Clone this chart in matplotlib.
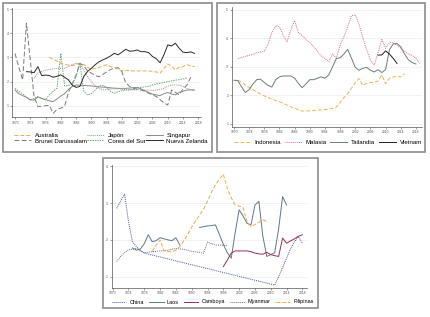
import numpy as np
import matplotlib
matplotlib.use("Agg")
import matplotlib.pyplot as plt
from matplotlib.patches import Rectangle

plt.rcParams['font.family'] = ['Liberation Sans', 'DejaVu Sans']

# ---------------- data: panel 1 ----------------
nz_years = list(range(1973, 2018))
nz_vals = [2.41, 2.40, 2.37, 2.62, 2.25, 2.27, 2.25, 2.18, 2.22, 2.28, 2.18, 2.07, 1.85, 1.76, 1.80,
           2.21, 2.42, 2.55, 2.70, 2.82, 2.90, 2.97, 3.06, 3.17, 3.11, 3.22, 3.34, 3.26, 3.27, 3.31,
           3.24, 3.24, 3.20, 3.04, 2.95, 2.78, 3.11, 3.52, 3.48, 3.59, 3.38, 3.22, 3.20, 3.23, 3.17]
aus_years = list(range(1979, 2018))
aus_vals = [3.00, 2.92, 2.85, 2.75, 2.72, 2.68, 2.66, 2.72, 2.76, 2.70, 2.60, 2.50, 2.55, 2.58, 2.65,
            2.70, 2.62, 2.58, 2.50, 2.45, 2.47, 2.46, 2.44, 2.44, 2.45, 2.44, 2.44, 2.42, 2.40, 2.35,
            2.55, 2.73, 2.65, 2.48, 2.60, 2.62, 2.70, 2.65, 2.62]
jap_years = list(range(1975, 2018))
jap_vals = [2.14, 2.35, 2.42, 2.48, 2.50, 2.52, 2.55, 2.55, 2.55, 2.62, 2.70, 2.76, 2.70, 2.50, 2.20,
            2.00, 1.82, 1.72, 1.65, 1.68, 1.70, 1.70, 1.70, 1.68, 1.67, 1.66, 1.66, 1.66, 1.66, 1.65,
            1.65, 1.63, 1.65, 1.68, 1.72, 1.80, 1.86, 1.86, 1.86, 1.80, 1.72, 1.66, 1.63]
sgp_years = list(range(1970, 2018))
sgp_vals = [1.65, 1.50, 1.42, 1.35, 1.24, 1.24, 1.36, 1.30, 1.25, 1.20, 1.17, 1.28, 1.40, 1.50, 1.68,
            1.80, 1.86, 1.85, 1.84, 1.83, 1.82, 1.80, 1.78, 1.77, 1.76, 1.74, 1.73, 1.72, 1.72, 1.72,
            1.73, 1.75, 1.76, 1.70, 1.62, 1.55, 1.48, 1.45, 1.42, 1.50, 1.55, 1.48, 1.45, 1.55, 1.60,
            1.65, 1.66, 1.65]
brn_years = list(range(1970, 2017))
brn_vals = [3.17, 2.60, 2.07, 4.42, 2.90, 1.38, 0.96, 0.98, 1.00, 1.02, 0.68, 0.85, 0.90, 0.98, 1.55,
            1.90, 2.28, 2.76, 2.65, 2.45, 2.35, 2.25, 2.20, 2.30, 2.40, 2.50, 2.55, 2.58, 2.40, 1.95,
            1.80, 1.72, 1.68, 1.65, 1.60, 1.52, 1.45, 1.38, 1.25, 1.12, 1.03, 1.65, 1.55, 1.45, 1.70,
            1.85, 2.18]
kor_years = list(range(1970, 2016))
kor_vals = [1.72, 1.60, 1.50, 1.35, 1.24, 1.30, 1.38, 1.30, 1.25, 1.45, 1.60, 1.72, 3.17, 1.82, 1.84,
            1.90, 2.20, 2.76, 1.60, 1.45, 1.50, 1.65, 1.82, 1.84, 1.75, 1.60, 1.51, 1.58, 1.62, 1.65,
            1.66, 1.68, 1.72, 1.76, 1.78, 1.80, 1.86, 1.90, 1.93, 1.96, 2.00, 2.03, 2.06, 2.08, 2.11,
            2.15]

# ---------------- data: panel 2 ----------------
idn_years = list(range(1971, 2016))
idn_vals = [2.53, 2.47, 2.36, 2.28, 2.20, 2.12, 2.05, 1.98, 1.92, 1.87, 1.82, 1.78, 1.72, 1.66, 1.60,
            1.55, 1.49, 1.45, 1.45, 1.46, 1.47, 1.48, 1.49, 1.50, 1.52, 1.55, 1.59, 1.75, 1.92, 2.06,
            2.25, 2.45, 2.59, 2.35, 2.42, 2.45, 2.46, 2.50, 2.71, 2.41, 2.60, 2.65, 2.66, 2.65, 2.76]
mys_years = list(range(1971, 2020))
mys_vals = [3.29, 3.33, 3.37, 3.40, 3.44, 3.49, 3.52, 3.55, 3.80, 4.20, 4.45, 4.40, 4.10, 3.88, 4.30,
            4.62, 4.20, 4.10, 3.96, 3.85, 3.72, 3.55, 3.38, 3.30, 3.18, 3.45, 3.30, 3.76, 4.06, 4.40,
            4.80, 4.82, 4.50, 4.00, 3.60, 3.24, 3.06, 3.50, 3.96, 3.65, 3.85, 3.85, 3.75, 3.65, 3.55,
            3.45, 3.40, 3.30, 3.12]
tha_years = list(range(1970, 2019))
tha_vals = [2.53, 2.52, 2.30, 2.10, 2.20, 2.40, 2.55, 2.57, 2.45, 2.35, 2.29, 2.55, 2.65, 2.68, 2.68,
            2.68, 2.60, 2.42, 2.27, 2.40, 2.55, 2.55, 2.60, 2.65, 2.60, 2.72, 3.00, 3.29, 3.32, 3.45,
            3.61, 3.30, 2.98, 2.88, 2.95, 2.98, 2.88, 2.82, 2.90, 2.80, 2.90, 3.60, 3.80, 3.82, 3.70,
            3.45, 3.25, 3.15, 3.10]
vnm_years = list(range(2008, 2014))
vnm_vals = [3.41, 3.42, 3.56, 3.45, 3.30, 3.12]

# ---------------- data: panel 3 ----------------
chn_years = [1971, 1972, 1973, 1974, 1975, 1976, 1977, 1978, 2011, 2012, 2013, 2014, 2015, 2016, 2017, 2018]
chn_vals = [2.86, 3.05, 3.25, 2.50, 1.95, 1.82, 1.70, 1.64, 0.77, 1.00, 1.25, 1.50, 1.75, 1.95, 2.09, 1.91]
lao_years = list(range(1975, 2015))
lao_vals = [1.78, 1.72, 1.75, 1.90, 2.14, 1.95, 1.98, 2.06, 2.03, 2.00, 1.98, 2.06, 1.86,
            np.nan, np.nan, np.nan, np.nan,
            2.34, 2.36, 2.38, 2.39, 2.41, 2.15, 1.88, 1.65, 1.50, 2.20, 2.82, 2.65, 2.45, 2.41,
            2.95, 3.05, 2.10, 1.55, 1.60, 1.65, 2.30, 3.18, 2.95]
khm_years = list(range(1998, 2019))
khm_vals = [1.27, 1.45, 1.64, 1.70, 1.70, 1.70, 1.70, 1.68, 1.64, 1.62, 1.61, 1.66, 1.60, 1.57, 1.55,
            2.05, 1.91, 1.97, 2.03, 2.10, 2.14]
mmr_years = [1971, 1972, 1973, 1974, 1975, 1976, 1978, 1980, 1982, 1984, 1986, 1988, 1990, 1992,
             1993, 1994, 1995, 1996, 1997, 1998, 1999]
mmr_vals = [1.41, 1.55, 1.65, 1.73, 1.74, 1.77, 1.65, 1.68, 1.70, 1.72, 1.77, 1.74, 1.69, 1.66,
            1.64, 1.94, 1.90, 1.86, 1.86, 1.85, 1.85]
phl_years = list(range(1980, 2010))
phl_vals = [1.68, 1.85, 2.00, 1.70, 1.68, 1.68, 1.72, 1.82, 1.98, 2.15, 2.35, 2.52, 2.68, 2.84, 3.05,
            3.30, 3.50, 3.65, 3.79, 3.41, 3.15, 2.95, 2.92, 2.88, 2.50, 2.36, 2.42, 2.48, 2.55, 2.50]

year_ticks = list(range(1970, 2019, 4))

W, H = 430, 317
fig = plt.figure(figsize=(W / 100, H / 100), dpi=100)

def px_axes(x0, y0, x1, y1):
    return fig.add_axes([x0 / W, 1 - y1 / H, (x1 - x0) / W, (y1 - y0) / H])

def px_box(x0, y0, x1, y1):
    return (x0 / W, 1 - y1 / H, (x1 - x0) / W, (y1 - y0) / H)

def frame(x0, y0, x1, y1):
    fig.patches.append(Rectangle((x0 / W, 1 - y1 / H), (x1 - x0) / W, (y1 - y0) / H,
                                 transform=fig.transFigure, fill=False,
                                 edgecolor='#8c8c8c', linewidth=1.2, zorder=0))

def style(ax, yticks, xlim, ylim):
    ax.set_xlim(*xlim)
    ax.set_ylim(*ylim)
    ax.set_xticks(year_ticks)
    ax.set_xticklabels([str(y) for y in year_ticks], fontsize=2.4, color='#444')
    ax.set_yticks(yticks)
    ax.set_yticklabels([str(t) for t in yticks], fontsize=2.4, color='#444')
    for s in ['top', 'right']:
        ax.spines[s].set_visible(False)
    for s in ['left', 'bottom']:
        ax.spines[s].set_color('#555')
        ax.spines[s].set_linewidth(0.5)
    ax.tick_params(length=1.5, width=0.4, pad=1, colors='#555')
    ax.grid(axis='y', color='#e8e8e8', linewidth=0.4)
    ax.set_axisbelow(True)
    ax.patch.set_alpha(0)

def legend(ax, box, ncol, fs, hl):
    h, l = ax.get_legend_handles_labels()
    fig.legend(h, l, loc='center', bbox_to_anchor=px_box(*box), mode='expand', ncol=ncol,
               frameon=False, fontsize=fs, handlelength=hl, columnspacing=0.6,
               labelspacing=0.1, handletextpad=0.6, borderpad=0, borderaxespad=0)

frame(3, 3, 212, 152)
frame(217, 3, 425, 152)
frame(103, 158, 318, 308)

lw = 0.7
# Panel 1
ax1 = px_axes(12.3, 8, 201, 117.3)
ax1.plot(aus_years, aus_vals, color='#eea94c', lw=lw, ls=(0, (4, 2)), label='Australia')
ax1.plot(brn_years, brn_vals, color='#7a7a7a', lw=lw, ls=(0, (5, 2.5)), label='Brunei Darussalam')
ax1.plot(jap_years, jap_vals, color='#a88a9a', lw=lw, ls=(0, (1, 1)), label='Japón')
ax1.plot(kor_years, kor_vals, color='#6aaa78', lw=lw, ls=(0, (1.5, 1)), label='Corea del Sur')
ax1.plot(sgp_years, sgp_vals, color='#8a8a8a', lw=lw, label='Singapur')
ax1.plot(nz_years, nz_vals, color='#2a2a2a', lw=lw, label='Nueva Zelanda')
style(ax1, [1, 2, 3, 4, 5], (1969.3, 2018.7), (0.52, 5.05))
legend(ax1, (14, 131, 208, 145), 3, 4.4, 2.8)

# Panel 2
ax2 = px_axes(231.7, 7, 422, 126.7)
ax2.plot(idn_years, idn_vals, color='#f0b257', lw=lw, ls=(0, (4, 2)), label='Indonesia')
ax2.plot(mys_years, mys_vals, color='#d9708a', lw=lw, ls=(0, (1, 1)), label='Malasia')
ax2.plot(tha_years, tha_vals, color='#6d7b7d', lw=lw, label='Tailandia')
ax2.plot(vnm_years, vnm_vals, color='#1e1e1e', lw=lw, label='Vietnam')
style(ax2, [1, 2, 3, 4, 5], (1969.4, 2019.6), (0.9, 5.1))
legend(ax2, (234, 138, 422, 146), 4, 4.4, 2.8)

# Panel 3
ax3 = px_axes(111.5, 165, 306.7, 288)
ax3.plot(chn_years, chn_vals, color='#4a5aa8', lw=lw, ls=(0, (1, 1)), label='China')
ax3.plot(lao_years, lao_vals, color='#5e7888', lw=lw, label='Laos')
ax3.plot(khm_years, khm_vals, color='#9a2f50', lw=lw, label='Camboya')
ax3.plot(mmr_years, mmr_vals, color='#707080', lw=lw, ls=(0, (1, 1)), label='Myanmar')
ax3.plot(phl_years, phl_vals, color='#eea94c', lw=lw, ls=(0, (4, 2)), label='Filipinas')
style(ax3, [1, 2, 3, 4], (1969.7, 2019.1), (0.69, 4.04))
legend(ax3, (112, 298, 314, 306), 5, 4.0, 2.6)

fig.savefig('out.png', dpi=100)
